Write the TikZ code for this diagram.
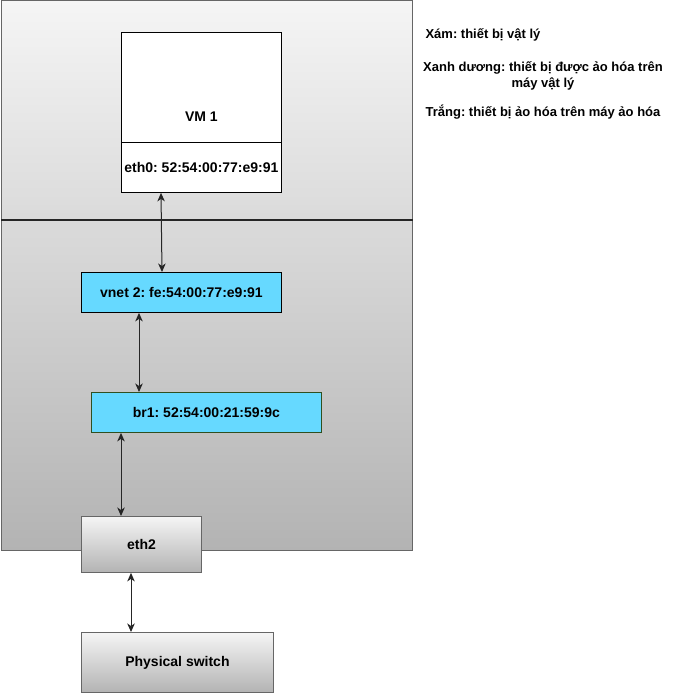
\documentclass[tikz,border=0pt]{standalone}
\usepackage{fontspec}
\setmainfont{Liberation Sans}
\frenchspacing
\usetikzlibrary{arrows.meta}
\definecolor{hostedge}{HTML}{666666}
\definecolor{graytop}{HTML}{F5F5F5}
\definecolor{graybot}{HTML}{B3B3B3}
\definecolor{virtblue}{HTML}{66D9FF}
\definecolor{bredge}{HTML}{2F4F1F}
\tikzset{
  boxfont/.style={font=\bfseries\fontsize{14}{16}\selectfont},
  physbox/.style={draw=hostedge, line width=0.9pt, top color=graytop, bottom color=graybot,
    anchor=north west, inner sep=0pt, boxfont},
  vbox/.style={draw=black, line width=0.9pt, fill=virtblue, anchor=north west, inner sep=0pt, boxfont},
  guestbox/.style={draw=black, line width=0.9pt, fill=white, anchor=north west, inner sep=0pt, boxfont},
  tip/.style={Stealth[length=8.5pt,width=7.5pt,inset=2.5pt]},
  link/.style={draw=black!85, line width=1pt, {Stealth[length=8.5pt,width=7.5pt,inset=2.5pt]}-{Stealth[length=8.5pt,width=7.5pt,inset=2.5pt]}},
  legend/.style={align=center, font=\bfseries\fontsize{13}{16}\selectfont}
}
\begin{document}
\begin{tikzpicture}[x=1pt, y=-1pt]
\useasboundingbox (0,0) rectangle (676,693);

% host machine
\node[physbox, minimum width=411pt, minimum height=550pt] (host) at (1,0) {};
\coordinate (sepL) at (1,220);
\coordinate (sepR) at (413,220);
\draw[line width=2pt, draw=black!85] (sepL) -- (sepR);

% guest VM
\node[guestbox, minimum width=160pt, minimum height=110pt] (vm) at (121,32) {};
\node[boxfont] (vmlabel) at ([yshift=-29pt]vm.center) {VM 1};
\node[guestbox, minimum width=160pt, minimum height=50pt] (vmeth0) at (121,142) {eth0: 52:54:00:77:e9:91};

% virtual devices on the host
\node[vbox, minimum width=200pt, minimum height=40pt] (vnet) at (81,272) {vnet 2: fe:54:00:77:e9:91};
\node[vbox, draw=bredge, minimum width=230pt, minimum height=40pt] (br1) at (91,392) {br1: 52:54:00:21:59:9c};

% physical devices
\node[physbox, minimum width=120pt, minimum height=56pt] (eth2) at (81,516) {eth2};
\node[physbox, minimum width=192pt, minimum height=60pt] (switch) at (81,632) {Physical switch};

% links
\draw[link] ([xshift=40pt]vmeth0.south west) -- ([xshift=41pt]vmeth0.south west |- vnet.north);
\draw[link] ([xshift=58pt]vnet.south west) -- ([xshift=58pt]vnet.south west |- br1.north);
\draw[link] ([xshift=30pt]br1.south west) -- ([xshift=30pt]br1.south west |- eth2.north);
\draw[link] ([xshift=50pt]eth2.south west) -- ([xshift=50pt]eth2.south west |- switch.north);

% legend
\node[legend] (lg1) at (483,35) {Xám: thiết bị vật lý};
\node[legend] (lg2) at (543,76) {Xanh dương: thiết bị được ảo hóa trên\\máy vật lý};
\node[legend] (lg3) at (543,112) {Trắng: thiết bị ảo hóa trên máy ảo hóa};
\end{tikzpicture}
\end{document}
